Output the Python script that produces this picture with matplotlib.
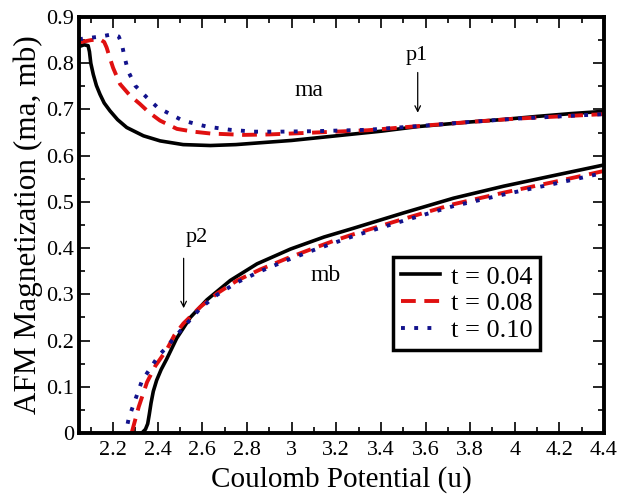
import matplotlib
matplotlib.use("Agg")
import matplotlib.pyplot as plt
from matplotlib.ticker import MultipleLocator, FuncFormatter

plt.rcParams['font.family'] = ['Liberation Serif', 'DejaVu Serif']

# ma branch (upper curves)
ma_x_004 = [2.047, 2.07, 2.088, 2.094, 2.1, 2.111, 2.125, 2.141, 2.16, 2.186, 2.22, 2.261,
            2.336, 2.411, 2.514, 2.636, 2.75, 2.86, 3.0, 3.2, 3.4, 3.566, 3.8, 3.94, 4.1,
            4.25, 4.4]
ma_y_004 = [0.836, 0.84, 0.838, 0.825, 0.8, 0.776, 0.752, 0.733, 0.714, 0.697, 0.678, 0.661,
            0.643, 0.632, 0.624, 0.622, 0.624, 0.628, 0.633, 0.643, 0.653, 0.663, 0.673, 0.678,
            0.685, 0.691, 0.696]

ma_x_008 = [2.047, 2.1, 2.14, 2.16, 2.171, 2.185, 2.2, 2.231, 2.276, 2.32, 2.36, 2.41, 2.486,
            2.56, 2.636, 2.785, 2.9, 3.1, 3.34, 3.566, 3.8, 4.0, 4.2, 4.4]
ma_y_008 = [0.845, 0.85, 0.852, 0.846, 0.834, 0.812, 0.79, 0.755, 0.73, 0.712, 0.694, 0.676,
            0.658, 0.652, 0.648, 0.645, 0.646, 0.65, 0.655, 0.664, 0.673, 0.68, 0.685, 0.69]

ma_x_010 = [2.047, 2.096, 2.147, 2.2, 2.225, 2.239, 2.25, 2.267, 2.3, 2.351, 2.4, 2.456, 2.508,
            2.56, 2.62, 2.665, 2.725, 2.778, 2.83, 2.95, 3.1, 3.34, 3.566, 3.8, 4.0, 4.2, 4.4]
ma_y_010 = [0.852, 0.855, 0.858, 0.863, 0.858, 0.842, 0.816, 0.783, 0.751, 0.726, 0.704, 0.69,
            0.677, 0.67, 0.663, 0.66, 0.656, 0.654, 0.652, 0.652, 0.653, 0.656, 0.664, 0.673,
            0.68, 0.685, 0.69]

# mb branch (lower curves)
mb_x_004 = [2.329, 2.345, 2.355, 2.362, 2.37, 2.38, 2.395, 2.415, 2.44, 2.485, 2.546, 2.62,
            2.725, 2.845, 2.995, 3.145, 3.277, 3.5, 3.725, 3.95, 4.174, 4.4]
mb_y_004 = [0.0, 0.008, 0.02, 0.04, 0.065, 0.09, 0.114, 0.137, 0.16, 0.205, 0.25, 0.288,
            0.33, 0.366, 0.398, 0.424, 0.443, 0.476, 0.508, 0.534, 0.557, 0.58]

mb_x_008 = [2.283, 2.315, 2.352, 2.389, 2.44, 2.475, 2.515, 2.591, 2.666, 2.756, 2.86,
            2.98, 3.1, 3.19, 3.277, 3.5, 3.725, 3.95, 4.174, 4.4]
mb_y_008 = [0.0, 0.057, 0.11, 0.145, 0.18, 0.212, 0.237, 0.273, 0.302, 0.33, 0.354,
            0.378, 0.4, 0.416, 0.43, 0.463, 0.495, 0.52, 0.543, 0.567]

mb_x_010 = [2.265, 2.27, 2.33, 2.346, 2.405, 2.435, 2.485, 2.591, 2.666, 2.756, 2.86,
            2.98, 3.1, 3.277, 3.5, 3.725, 3.95, 4.174, 4.4]
mb_y_010 = [0.02, 0.032, 0.114, 0.125, 0.168, 0.183, 0.212, 0.27, 0.299, 0.326, 0.35,
            0.374, 0.396, 0.426, 0.459, 0.491, 0.516, 0.539, 0.563]

labels = ["t = 0.04", "t = 0.08", "t = 0.10"]

fig = plt.figure(figsize=(6.17, 4.94), dpi=100)
ax = fig.add_axes([0.128, 0.1235, 0.851, 0.842])

black = dict(color="black", lw=2.6, ls="-")
red = dict(color="#e01010", lw=2.8, ls=(0, (3.8, 2.2)))
blue = dict(color="#12128c", lw=2.8, ls=(0, (1, 2.4)))

ax.plot(ma_x_004, ma_y_004, label=labels[0], **black)
ax.plot(ma_x_008, ma_y_008, label=labels[1], **red)
ax.plot(ma_x_010, ma_y_010, label=labels[2], **blue)
ax.plot(mb_x_004, mb_y_004, **black)
ax.plot(mb_x_008, mb_y_008, **red)
ax.plot(mb_x_010, mb_y_010, **blue)

ax.set_xlim(2.047, 4.4)
ax.set_ylim(0, 0.9)
ax.xaxis.set_major_locator(MultipleLocator(0.2))
ax.xaxis.set_minor_locator(MultipleLocator(0.1))
ax.yaxis.set_major_locator(MultipleLocator(0.1))
ax.yaxis.set_minor_locator(MultipleLocator(0.05))
fmt = FuncFormatter(lambda v, p: "%g" % round(v, 2))
ax.xaxis.set_major_formatter(fmt)
ax.yaxis.set_major_formatter(fmt)

ax.tick_params(which="both", direction="in", top=True, right=True, width=1.2, labelsize=16)
ax.tick_params(which="major", length=8)
ax.tick_params(which="minor", length=4.5)
ax.tick_params(axis="x", pad=6)
for s in ax.spines.values():
    s.set_linewidth(2.8)

ax.set_xlabel("Coulomb Potential (u)", fontsize=21, labelpad=4)
ax.set_ylabel("AFM Magnetization (ma, mb)", fontsize=22.5, labelpad=2)

# annotations
ax.text(3.076, 0.74, "ma", fontsize=17, ha="center", va="center")
ax.text(3.153, 0.341, "mb", fontsize=17, ha="center", va="center")
ax.text(3.56, 0.816, "p1", fontsize=16, ha="center", va="center")
ax.annotate("", xy=(3.565, 0.693), xytext=(3.565, 0.78),
            arrowprops=dict(arrowstyle="->", lw=0.9, color="black", shrinkA=0, shrinkB=0))
ax.text(2.577, 0.423, "p2", fontsize=16, ha="center", va="center")
ax.annotate("", xy=(2.516, 0.27), xytext=(2.516, 0.378),
            arrowprops=dict(arrowstyle="->", lw=0.9, color="black", shrinkA=0, shrinkB=0))

leg = ax.legend(loc="lower left", bbox_to_anchor=(0.5975, 0.2), borderaxespad=0,
                fontsize=19, handlelength=1.5, handletextpad=0.4, labelspacing=0.12,
                borderpad=0.3, fancybox=False, framealpha=1)
leg.get_frame().set_edgecolor("black")
leg.get_frame().set_linewidth(2.5)

fig.savefig("out.png", dpi=100)
